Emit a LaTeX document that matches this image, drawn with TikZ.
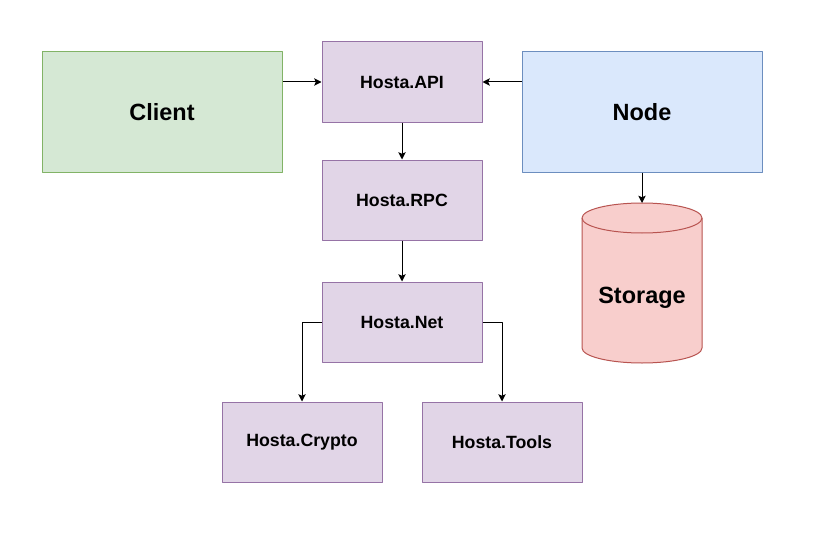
\documentclass[tikz,border=0pt]{standalone}
\usepackage{fontspec}
\setmainfont{Liberation Sans}
\usetikzlibrary{arrows.meta}
\definecolor{modfill}{HTML}{E1D5E7}
\definecolor{moddraw}{HTML}{9673A6}
\definecolor{clifill}{HTML}{D5E8D4}
\definecolor{clidraw}{HTML}{82B366}
\definecolor{nodfill}{HTML}{DAE8FC}
\definecolor{noddraw}{HTML}{6C8EBF}
\definecolor{stofill}{HTML}{F8CECC}
\definecolor{stodraw}{HTML}{B85450}
\tikzset{
  module/.style={draw=moddraw,fill=modfill,line width=.75pt,minimum width=120pt,minimum height=60pt,
    font=\fontsize{13.3}{15}\selectfont\bfseries,inner sep=0pt},
  bigbox/.style={draw=#1draw,fill=#1fill,line width=.75pt,minimum width=180pt,minimum height=90pt,
    font=\fontsize{17.6}{20}\selectfont\bfseries,inner sep=0pt},
  link/.style={-{Stealth[length=5.5pt,width=5.5pt,inset=1.2pt]},line width=.75pt}
}
\begin{document}
\begin{tikzpicture}[x=.75pt,y=-.75pt,line join=round]
\useasboundingbox[fill=white] (0,0) rectangle (821,542);
% big boxes
\node[bigbox=cli] (client) at (162,112) {Client};
\node[bigbox=nod] (node) at (642,112) {Node};
% modules
\foreach \name/\txt/\x/\y in {api/API/402/82,rpc/RPC/402/200,net/Net/402/322,crypto/Crypto/302/442,tools/Tools/502/442}
\node[module] (\name) at (\x,\y) {Hosta.\txt};
% storage cylinder
\draw[draw=stodraw,fill=stofill,line width=.75pt] (582,218) -- (582,348)
  arc[start angle=180,end angle=0,x radius=60,y radius=15] -- (702,218)
  arc[start angle=0,end angle=-180,x radius=60,y radius=15] -- cycle;
\draw[draw=stodraw,line width=.75pt] (582,218) arc[start angle=180,end angle=0,x radius=60,y radius=15];
\coordinate (stotop) at (642,203);
\node[font=\fontsize{17.6}{20}\selectfont\bfseries] (storage) at (642,298) {Storage};
% connectors
\draw[link] (client.east |- api.west) -- (api.west);
\draw[link] (node.west |- api.east) -- (api.east);
\draw[link] (api) -- (rpc);
\draw[link] (rpc) -- (net);
\draw[link] (net.west) -| (crypto.north);
\draw[link] (net.east) -| (tools.north);
\draw[link] (node.south) -- (stotop);
\end{tikzpicture}
\end{document}
